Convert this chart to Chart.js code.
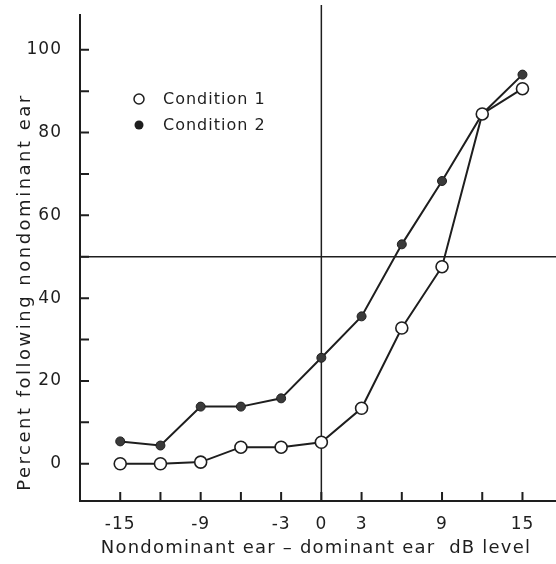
<!DOCTYPE html>
<html>
<head>
<meta charset="utf-8">
<script src="https://cdn.jsdelivr.net/npm/chart.js@4/dist/chart.umd.min.js"></script>
<style>
  html, body { margin: 0; padding: 0; background: #fff; overflow: hidden; }
</style>
</head>
<body>
<canvas id="c" width="556" height="564"></canvas>
<script>
// dB difference levels (nondominant - dominant)
const dbLevels   = [-15, -12, -9, -6, -3, 0, 3, 6, 9, 12, 15];
const condition1 = [0, 0, 0.4, 4, 4, 5.2, 13.4, 32.8, 47.6, 84.5, 90.6];
const condition2 = [5.4, 4.4, 13.8, 13.8, 15.8, 25.6, 35.6, 53, 68.3, 84.5, 94];

const xTickLabels = [-15, -9, -3, 0, 3, 9, 15];
const xTickMarks  = [-15, -12, -9, -6, -3, 0, 3, 6, 9, 12, 15];
const yTickLabels = [0, 20, 40, 60, 80, 100];
const yTickMarks  = [0, 10, 20, 30, 40, 50, 60, 70, 80, 90, 100];
const refX = 0;
const refY = 50;

const INK  = '#1e1e1e';
const FONT = "'DejaVu Sans', sans-serif";

// ─── custom drawing: inward ticks, reference lines, legend, titles ────
const decor = {
  id: 'decor',
  beforeDraw(chart) {
    chart.ctx.letterSpacing = '1px';
  },
  beforeDatasetsDraw(chart) {
    const { ctx, chartArea: a, scales: { x, y } } = chart;
    ctx.save();
    ctx.strokeStyle = INK;
    ctx.lineWidth = 1.5;
    // reference lines
    const px = x.getPixelForValue(refX);
    const py = y.getPixelForValue(refY);
    ctx.beginPath();
    ctx.moveTo(px, a.top - 10); ctx.lineTo(px, a.bottom);
    ctx.moveTo(a.left, py); ctx.lineTo(chart.width, py);
    ctx.stroke();
    // inward tick marks
    ctx.lineWidth = 2;
    ctx.beginPath();
    xTickMarks.forEach(v => {
      const p = x.getPixelForValue(v);
      ctx.moveTo(p, a.bottom); ctx.lineTo(p, a.bottom - 9);
    });
    yTickMarks.forEach(v => {
      const p = y.getPixelForValue(v);
      ctx.moveTo(a.left, p); ctx.lineTo(a.left + 9, p);
    });
    ctx.stroke();
    ctx.restore();
  },
  afterDraw(chart) {
    const { ctx } = chart;
    ctx.save();
    ctx.fillStyle = INK;
    ctx.strokeStyle = INK;

    // legend
    ctx.font = '16px ' + FONT;
    ctx.letterSpacing = '1px';
    ctx.textBaseline = 'middle';
    ctx.textAlign = 'left';
    ctx.lineWidth = 1.5;
    ctx.beginPath(); ctx.arc(139, 99, 5, 0, Math.PI * 2);
    ctx.fillStyle = '#fff'; ctx.fill(); ctx.stroke();
    ctx.fillStyle = INK;
    ctx.beginPath(); ctx.arc(139, 125, 4.5, 0, Math.PI * 2); ctx.fill();
    ctx.fillText('Condition 1', 163, 100);
    ctx.fillText('Condition 2', 163, 126);

    // axis titles
    ctx.font = '18px ' + FONT;
    ctx.letterSpacing = '1.2px';
    ctx.textAlign = 'center';
    ctx.fillText('Nondominant ear \u2013 dominant ear  dB level', 316, 548);
    ctx.letterSpacing = '2.5px';
    ctx.translate(25, 292);
    ctx.rotate(-Math.PI / 2);
    ctx.fillText('Percent following nondominant ear', 0, 0);
    ctx.restore();
  }
};

const xMin = -18, xMax = 17.5, yMin = -9, yMax = 108.4;

new Chart(document.getElementById('c'), {
  type: 'line',
  data: {
    datasets: [
      {
        label: 'Condition 1',
        data: dbLevels.map((v, i) => ({ x: v, y: condition1[i] })),
        borderColor: INK,
        borderWidth: 2,
        backgroundColor: '#fff',
        pointBackgroundColor: '#fff',
        pointBorderColor: INK,
        pointBorderWidth: 1.6,
        pointRadius: 6,
        tension: 0,
      },
      {
        label: 'Condition 2',
        data: dbLevels.map((v, i) => ({ x: v, y: condition2[i] })),
        borderColor: INK,
        borderWidth: 2,
        backgroundColor: '#3a3a3a',
        pointBackgroundColor: '#3a3a3a',
        pointBorderColor: INK,
        pointBorderWidth: 1,
        pointRadius: 4.5,
        tension: 0,
      }
    ]
  },
  options: {
    responsive: false,
    animation: false,
    layout: { autoPadding: false, padding: { top: 15, right: 0, left: 0, bottom: 0 } },
    plugins: {
      legend: { display: false },
      tooltip: { enabled: false },
    },
    scales: {
      x: {
        type: 'linear',
        min: xMin, max: xMax,
        afterBuildTicks: s => { s.ticks = xTickLabels.map(v => ({ value: v })); },
        afterFit: s => { s.height = 63; s.paddingLeft = 0; s.paddingRight = 0; },
        grid: { display: false },
        border: { display: true, color: INK, width: 2 },
        ticks: { color: INK, font: { family: FONT, size: 17 }, padding: 5, maxRotation: 0 },
      },
      y: {
        type: 'linear',
        min: yMin, max: yMax,
        afterBuildTicks: s => { s.ticks = yTickLabels.map(v => ({ value: v })); },
        afterFit: s => { s.width = 80; s.paddingTop = 0; s.paddingBottom = 0; },
        grid: { display: false },
        border: { display: true, color: INK, width: 2 },
        ticks: { color: INK, font: { family: FONT, size: 17 }, padding: 10 },
      }
    }
  },
  plugins: [decor]
});
</script>
</body>
</html>
